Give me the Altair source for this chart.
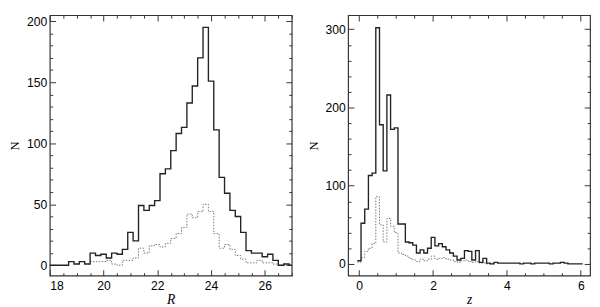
import altair as alt
import pandas as pd

# ---------------- left panel: R magnitude histogram (bin width 0.2) -------------
R_EDGES = [17.9, 18.1, 18.3, 18.5, 18.7, 18.9, 19.1, 19.3, 19.5, 19.7, 19.9,
           20.1, 20.3, 20.5, 20.7, 20.9, 21.1, 21.3, 21.5, 21.7, 21.9,
           22.1, 22.3, 22.5, 22.7, 22.9, 23.1, 23.3, 23.5, 23.7, 23.9,
           24.1, 24.3, 24.5, 24.7, 24.9, 25.1, 25.3, 25.5, 25.7, 25.9,
           26.1, 26.3, 26.5, 26.7, 26.9, 27.1]
R_SOLID = [0, 0, 0, 0, 3, 1, 3, 1, 10, 8, 9, 6, 10, 9, 13, 27, 20, 49, 45, 49, 53,
           75, 79, 94, 108, 113, 133, 147, 170, 195, 151, 111, 72, 59, 45, 40,
           27, 12, 10, 10, 7, 9, 4, 0, 1, 0]
R_DOT_EDGES = [19.5, 19.7, 19.9, 20.1, 20.3, 20.5, 20.7, 20.9, 21.1, 21.3, 21.5,
               21.7, 21.9, 22.1, 22.3, 22.5, 22.7, 22.9, 23.1, 23.3, 23.5, 23.7,
               23.9, 24.1, 24.3, 24.5, 24.7, 24.9, 25.1, 25.3, 25.5, 25.7, 25.9,
               26.1, 26.3, 26.5, 26.7, 26.9, 27.1]
R_DOTTED = [3, 3, 3, 4, 1, 0, 4, 4, 6, 14, 10, 16, 17, 15, 18, 22, 26, 31, 42, 39,
            44, 50, 44, 26, 14, 17, 13, 8, 5, 2, 2, 4, 2, 2, 1, 0, 0, 0]

# ---------------- right panel: redshift histogram (bin width 0.1) ---------------
Z_EDGES = [-0.05, 0.05, 0.15, 0.25, 0.35, 0.45, 0.55, 0.65, 0.75, 0.85, 0.95,
           1.05, 1.15, 1.25, 1.35, 1.45, 1.55, 1.65, 1.75, 1.85, 1.95,
           2.05, 2.15, 2.25, 2.35, 2.45, 2.55, 2.65, 2.75, 2.85, 2.95,
           3.05, 3.15, 3.25, 3.35, 3.45, 3.55, 3.65, 3.75, 3.85, 3.95,
           4.05, 4.15, 4.25, 4.35, 4.45, 4.55, 4.65, 4.75, 4.85, 4.95,
           5.05, 5.15, 5.25, 5.35, 5.45, 5.55, 5.65, 5.75, 5.85, 5.95, 6.05]
Z_SOLID = [4, 52, 70, 113, 116, 302, 178, 119, 216, 172,
           174, 51, 51, 28, 27, 24, 14, 18, 14, 20,
           34, 23, 26, 22, 18, 14, 10, 5, 7, 17,
           16, 5, 17, 2, 7, 1, 0, 2, 1, 1,
           1, 1, 1, 1, 0, 1, 1, 0, 1, 1,
           1, 1, 0, 1, 1, 2, 1, 0, 0, 0,
           0]
Z_DOTTED = [2, 8, 16, 20, 26, 86, 50, 28, 58, 48,
            40, 14, 12, 10, 7, 5, 3, 6, 4, 6,
            10, 6, 7, 8, 6, 5, 3, 2, 4, 5,
            3, 2, 3, 1, 1, 0, 0]

R_MAJOR = [18, 20, 22, 24, 26]
R_TICKS = [18, 18.5, 19, 19.5, 20, 20.5, 21, 21.5, 22, 22.5, 23, 23.5, 24,
           24.5, 25, 25.5, 26, 26.5, 27]
NR_MAJOR = [0, 50, 100, 150, 200]
NR_TICKS = [0, 10, 20, 30, 40, 50, 60, 70, 80, 90, 100, 110, 120, 130, 140,
            150, 160, 170, 180, 190, 200]
Z_MAJOR = [0, 2, 4, 6]
Z_TICKS = [0, 0.5, 1, 1.5, 2, 2.5, 3, 3.5, 4, 4.5, 5, 5.5, 6]
NZ_MAJOR = [0, 100, 200, 300]
NZ_TICKS = [0, 20, 40, 60, 80, 100, 120, 140, 160, 180, 200, 220, 240, 260,
            280, 300]

W = 249
H = 268
LABEL_FONT = "Liberation Sans"
TITLE_FONT = "Liberation Serif"


def steps(edges, counts):
    xs = list(edges[:len(counts)]) + [edges[len(counts)]]
    ys = list(counts) + [counts[-1]]
    return pd.DataFrame({"x": xs, "n": ys})


def tick_axis(orient, offset, values, mod):
    return alt.Axis(
        orient=orient, offset=offset, values=values, labels=False,
        domain=False, grid=False, title=None, tickColor="#333", tickWidth=1,
        tickSize={"condition": {"test": f"datum.value % {mod} === 0", "value": 6},
                  "value": 3},
        minExtent=0, maxExtent=0,
    )


def panel(solid, dotted, xdom, ydom, xmaj, xticks, xmod, ymaj, yticks, ymod,
          xtitle):
    xs = alt.Scale(domain=xdom, nice=False, zero=False)
    ys = alt.Scale(domain=ydom, nice=False, zero=False)
    x_lab = alt.Axis(values=xmaj, ticks=False, domain=False, grid=False,
                     labelFont=LABEL_FONT, labelFontSize=12.5, labelColor="black",
                     labelPadding=4, format="d", title=xtitle,
                     titleFont=TITLE_FONT, titleFontStyle="italic",
                     titleFontWeight="normal", titleFontSize=14,
                     titleColor="black", titlePadding=1)
    y_lab = alt.Axis(values=ymaj, ticks=False, domain=False, grid=False,
                     labelFont=LABEL_FONT, labelFontSize=12.5, labelColor="black",
                     labelPadding=3, format="d", title="N",
                     titleFont=TITLE_FONT, titleFontStyle="normal",
                     titleFontWeight="normal", titleFontSize=13,
                     titleColor="black", titlePadding=5)
    solid_layer = alt.Chart(solid).mark_line(
        interpolate="step-after", clip=True, color="#222", strokeWidth=1.4
    ).encode(x=alt.X("x:Q", scale=xs, axis=x_lab),
             y=alt.Y("n:Q", scale=ys, axis=y_lab))
    dotted_layer = alt.Chart(dotted).mark_line(
        interpolate="step-after", clip=True, color="#777", strokeWidth=1,
        strokeDash=[1.5, 1.5]
    ).encode(x=alt.X("x:Q", scale=xs, axis=tick_axis("top", -H, xticks, xmod)),
             y=alt.Y("n:Q", scale=ys, axis=tick_axis("right", -W, yticks, ymod)))
    ghost = alt.Chart(solid).mark_line(opacity=0, clip=True).encode(
        x=alt.X("x:Q", scale=xs, axis=tick_axis("bottom", -H, xticks, xmod)),
        y=alt.Y("n:Q", scale=ys, axis=tick_axis("left", -W, yticks, ymod)))
    return alt.layer(ghost, dotted_layer, solid_layer).resolve_axis(
        x="independent", y="independent").properties(width=W, height=H)


left = panel(steps(R_EDGES, R_SOLID), steps(R_DOT_EDGES, R_DOTTED),
             [18, 27], [-8.5, 205], R_MAJOR, R_TICKS, 2, NR_MAJOR, NR_TICKS, 50,
             "R")
right = panel(steps(Z_EDGES, Z_SOLID), steps(Z_EDGES, Z_DOTTED),
              [-0.3, 6.25], [-15, 318], Z_MAJOR, Z_TICKS, 2, NZ_MAJOR, NZ_TICKS,
              100, "z")

chart = alt.hconcat(left, right, spacing=13).configure_view(
    stroke="#333", strokeWidth=1.2
).properties(padding={"left": 0, "top": 1, "right": 0, "bottom": 0},
             background="white")

chart.save("out.html", embed_options={"renderer": "svg", "actions": False})
